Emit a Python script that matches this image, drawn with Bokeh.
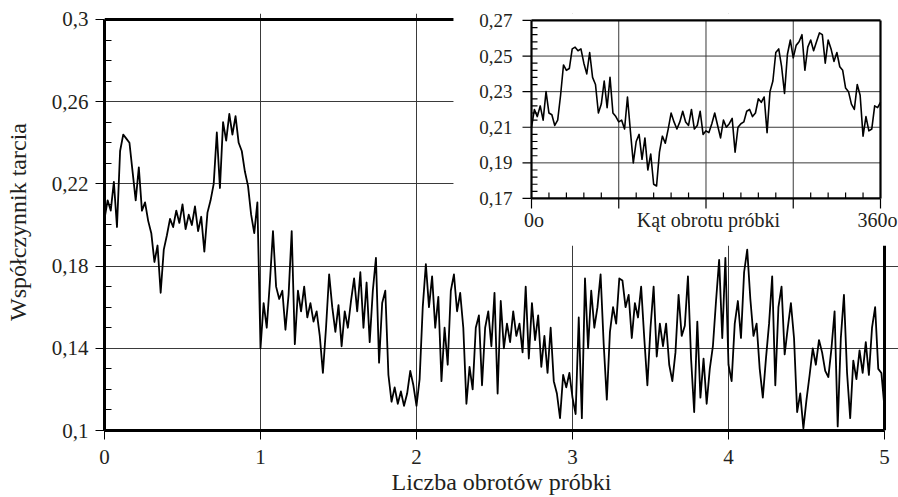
import numpy as np
from bokeh.plotting import figure
from bokeh.models import Range1d, FixedTicker, CustomJSTickFormatter, Label
from bokeh.embed import file_html
from bokeh.resources import INLINE

FONT = "Liberation Serif"
TXT = "#231f20"

# ---------------- data ----------------
# main chart: friction coefficient vs number of sample revolutions (sampled every 0.02 rev)
main_x = np.round(np.arange(251) * 0.02, 2)
main_y = [
    0.203, 0.212, 0.207, 0.221, 0.199, 0.236, 0.244, 0.242, 0.240, 0.226,
    0.212, 0.228, 0.207, 0.211, 0.202, 0.196, 0.182, 0.190, 0.167, 0.188,
    0.195, 0.203, 0.199, 0.207, 0.201, 0.210, 0.198, 0.205, 0.200, 0.209,
    0.197, 0.204, 0.187, 0.206, 0.212, 0.220, 0.245, 0.218, 0.250, 0.241,
    0.254, 0.244, 0.253, 0.240, 0.236, 0.226, 0.219, 0.205, 0.196, 0.211,
    0.140, 0.162, 0.150, 0.172, 0.197, 0.170, 0.164, 0.168, 0.149, 0.166,
    0.197, 0.142, 0.168, 0.158, 0.170, 0.155, 0.162, 0.153, 0.158, 0.146,
    0.128, 0.150, 0.176, 0.160, 0.148, 0.161, 0.141, 0.158, 0.150, 0.163,
    0.174, 0.158, 0.177, 0.150, 0.172, 0.143, 0.168, 0.184, 0.133, 0.162,
    0.168, 0.127, 0.114, 0.121, 0.113, 0.119, 0.112, 0.118, 0.129, 0.122,
    0.112, 0.125, 0.160, 0.181, 0.160, 0.175, 0.150, 0.165, 0.124, 0.150,
    0.132, 0.168, 0.176, 0.158, 0.167, 0.150, 0.113, 0.131, 0.120, 0.150,
    0.156, 0.122, 0.150, 0.158, 0.141, 0.167, 0.118, 0.163, 0.140, 0.152,
    0.143, 0.158, 0.146, 0.152, 0.138, 0.170, 0.135, 0.162, 0.144, 0.156,
    0.131, 0.146, 0.128, 0.150, 0.124, 0.118, 0.106, 0.127, 0.121, 0.128,
    0.116, 0.108, 0.155, 0.106, 0.174, 0.140, 0.168, 0.150, 0.160, 0.176,
    0.142, 0.115, 0.148, 0.160, 0.152, 0.174, 0.173, 0.160, 0.166, 0.145,
    0.162, 0.155, 0.170, 0.145, 0.122, 0.150, 0.170, 0.136, 0.152, 0.141,
    0.152, 0.132, 0.124, 0.138, 0.166, 0.146, 0.151, 0.175, 0.135, 0.109,
    0.153, 0.116, 0.135, 0.113, 0.130, 0.141, 0.163, 0.183, 0.145, 0.184,
    0.132, 0.124, 0.152, 0.163, 0.145, 0.177, 0.188, 0.164, 0.146, 0.152,
    0.130, 0.116, 0.135, 0.152, 0.175, 0.122, 0.160, 0.170, 0.137, 0.150,
    0.162, 0.145, 0.109, 0.118, 0.101, 0.115, 0.127, 0.140, 0.132, 0.144,
    0.138, 0.129, 0.126, 0.140, 0.158, 0.102, 0.145, 0.166, 0.128, 0.106,
    0.134, 0.125, 0.139, 0.128, 0.143, 0.127, 0.150, 0.160, 0.130, 0.128,
    0.111,
]

# inset: friction coefficient vs rotation angle of the sample (every 3 degrees)
inset_deg = np.arange(121) * 3
inset_y = [
    0.210, 0.220, 0.216, 0.222, 0.214, 0.230, 0.218, 0.217, 0.211, 0.214,
    0.228, 0.245, 0.242, 0.243, 0.254, 0.255, 0.253, 0.254, 0.246, 0.240,
    0.252, 0.238, 0.234, 0.218, 0.223, 0.236, 0.221, 0.238, 0.218, 0.216,
    0.213, 0.214, 0.209, 0.227, 0.208, 0.190, 0.202, 0.206, 0.192, 0.204,
    0.186, 0.195, 0.178, 0.177, 0.196, 0.205, 0.201, 0.209, 0.218, 0.213,
    0.209, 0.213, 0.219, 0.213, 0.211, 0.220, 0.209, 0.211, 0.219, 0.206,
    0.208, 0.207, 0.212, 0.218, 0.211, 0.204, 0.214, 0.210, 0.212, 0.215,
    0.196, 0.210, 0.212, 0.213, 0.219, 0.220, 0.216, 0.218, 0.226, 0.224,
    0.227, 0.207, 0.230, 0.236, 0.252, 0.254, 0.244, 0.229, 0.251, 0.259,
    0.249, 0.256, 0.258, 0.262, 0.242, 0.255, 0.259, 0.253, 0.258, 0.263,
    0.262, 0.246, 0.259, 0.254, 0.247, 0.252, 0.244, 0.242, 0.232, 0.230,
    0.223, 0.220, 0.234, 0.228, 0.205, 0.216, 0.208, 0.209, 0.222, 0.221,
    0.224,
]

main_xticks = [0, 1, 2, 3, 4, 5]
main_yticks = [0.1, 0.14, 0.18, 0.22, 0.26, 0.3]
main_yminor = [v for v in np.round(np.arange(0.10, 0.3001, 0.01), 2) if v not in main_yticks]
main_xgrid = [1, 2, 3, 4]
main_ygrid = [0.14, 0.18, 0.22, 0.26]

inset_yticks = [0.17, 0.19, 0.21, 0.23, 0.25, 0.27]
inset_ylabels = ["0,17", "0,19", "0,21", "0,23", "0,25", "0,27"]
inset_yminor = [v for v in np.round(np.arange(0.17, 0.2701, 0.004), 3) if min(abs(v - t) for t in inset_yticks) > 1e-4]
inset_xmajor = [0, 90, 180, 270, 360]
inset_xminor = [d for d in range(18, 360, 18) if d % 90 != 0]
inset_xgrid = [90, 180, 270]
inset_ygrid = [0.19, 0.21, 0.23, 0.25]

# ---------------- figure ----------------
p = figure(width=898, height=497,
           x_range=Range1d(0, 5.0897), y_range=Range1d(0.1, 0.302899),
           output_backend="svg", toolbar_location=None,
           min_border_left=104, min_border_right=0, min_border_top=13, min_border_bottom=64,
           background_fill_color="white", border_fill_color="white")
p.outline_line_color = None
p.extra_x_ranges = {"ix": Range1d(-440.46, 378.57)}
p.extra_y_ranges = {"iy": Range1d(0.03966, 0.273904)}

xa = p.xaxis[0]
xa.ticker = FixedTicker(ticks=main_xticks)
xa.bounds = (0, 5)
xa.axis_line_width = 3
xa.axis_line_color = "black"
xa.major_tick_in = 0
xa.major_tick_out = 9
xa.major_tick_line_color = "black"
xa.minor_tick_line_color = None
xa.major_label_text_font = FONT
xa.major_label_text_font_size = "21px"
xa.major_label_text_color = TXT
xa.major_label_standoff = 10
xa.axis_label = "Liczba obrotów próbki"
xa.axis_label_text_font = FONT
xa.axis_label_text_font_size = "24px"
xa.axis_label_text_font_style = "normal"
xa.axis_label_text_color = TXT
xa.axis_label_standoff = 2

ya = p.yaxis[0]
ya.ticker = FixedTicker(ticks=main_yticks, minor_ticks=main_yminor)
ya.formatter = CustomJSTickFormatter(code="return String(Math.round(tick*100)/100).replace('.', ',');")
ya.bounds = (0.1, 0.3)
ya.axis_line_width = 3
ya.axis_line_color = "black"
ya.major_tick_in = 0
ya.major_tick_out = 9
ya.major_tick_line_color = "black"
ya.minor_tick_in = 7
ya.minor_tick_out = 0
ya.minor_tick_line_color = "black"
ya.major_label_text_font = FONT
ya.major_label_text_font_size = "21px"
ya.major_label_text_color = TXT
ya.major_label_standoff = 7
ya.axis_label = "Współczynnik tarcia"
ya.axis_label_text_font = FONT
ya.axis_label_text_font_size = "24px"
ya.axis_label_text_font_style = "normal"
ya.axis_label_text_color = TXT
ya.axis_label_standoff = 18

p.xgrid.ticker = FixedTicker(ticks=main_xgrid)
p.ygrid.ticker = FixedTicker(ticks=main_ygrid)
p.grid.grid_line_color = "#3a3a3a"
p.grid.grid_line_width = 1
p.ygrid.bounds = (0, 5)
p.xgrid.bounds = (0.1, 0.3)

# frame lines (top and right)
p.segment(x0=[0, 5], y0=[0.3, 0.1], x1=[5, 5], y1=[0.3, 0.3], line_width=3, line_color="black")

# main series
p.line(main_x, main_y, line_color="black", line_width=1.8, line_join="round")

# ---------------- inset ----------------
IR = dict(x_range_name="ix", y_range_name="iy")
p.quad(left=-80.5, right=420, bottom=0.1434, top=0.30, fill_color="white", line_color=None, **IR)

p.segment(x0=inset_xgrid, y0=[0.17] * 3, x1=inset_xgrid, y1=[0.27] * 3,
          line_color="#3a3a3a", line_width=1, **IR)
p.segment(x0=[0] * 4, y0=inset_ygrid, x1=[360] * 4, y1=inset_ygrid,
          line_color="#3a3a3a", line_width=1, **IR)

p.line(inset_deg, inset_y, line_color="black", line_width=1.6, line_join="round", **IR)

# inset frame
p.segment(x0=[0, 0, 0, 360], y0=[0.17, 0.17, 0.27, 0.17], x1=[360, 0, 360, 360], y1=[0.17, 0.27, 0.27, 0.27],
          line_color="black", line_width=2.2, **IR)

# inset ticks
p.ray(x=[0] * len(inset_yticks), y=inset_yticks, length=9, length_units="screen", angle=np.pi,
      line_color="black", line_width=1.2, **IR)
p.ray(x=[0] * len(inset_yminor), y=inset_yminor, length=6, length_units="screen", angle=0,
      line_color="black", line_width=1.2, **IR)
p.ray(x=inset_xminor, y=[0.17] * len(inset_xminor), length=6, length_units="screen", angle=np.pi / 2,
      line_color="black", line_width=1.2, **IR)
p.ray(x=inset_xmajor, y=[0.17] * len(inset_xmajor), length=10, length_units="screen", angle=-np.pi / 2,
      line_color="black", line_width=1.2, **IR)

for v, t in zip(inset_yticks, inset_ylabels):
    p.add_layout(Label(x=0, y=v, text=t, x_offset=-19, text_align="right", text_baseline="middle",
                       text_font=FONT, text_font_size="19px", text_color=TXT, **IR))

p.add_layout(Label(x=0, y=0.1579, text="0o", x_offset=2.5, text_align="center", text_baseline="middle",
                   text_font=FONT, text_font_size="20px", text_color=TXT, **IR))
p.add_layout(Label(x=182.6, y=0.1579, text="Kąt obrotu próbki", text_align="center", text_baseline="middle",
                   text_font=FONT, text_font_size="20px", text_color=TXT, **IR))
p.add_layout(Label(x=360, y=0.1579, text="360o", x_offset=17, text_align="right", text_baseline="middle",
                   text_font=FONT, text_font_size="20px", text_color=TXT, **IR))

open("out.html", "w").write(file_html(p, INLINE))
